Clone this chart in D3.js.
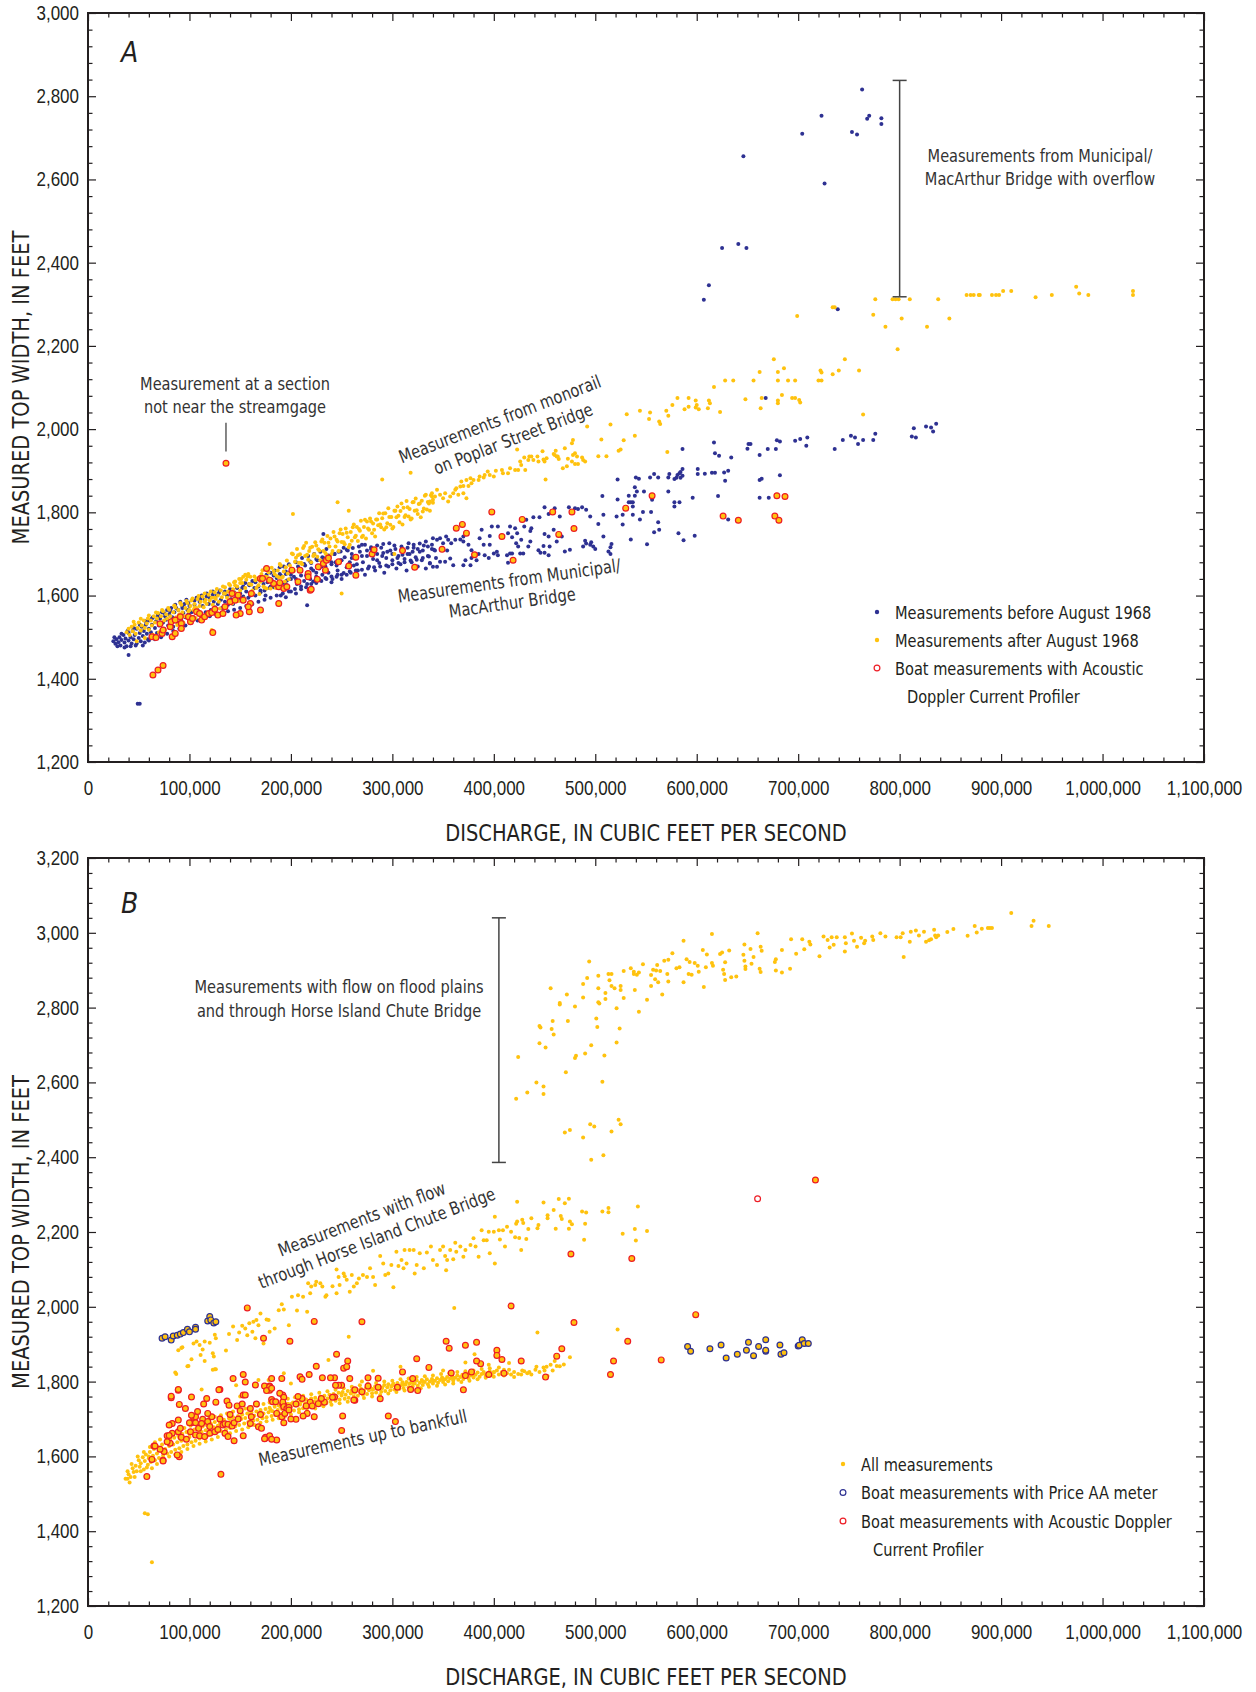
<!DOCTYPE html>
<html><head><meta charset="utf-8">
<script src="https://cdn.jsdelivr.net/npm/d3@7"></script>
<style>
body{margin:0;background:#fff;}
svg{display:block;font-family:"Liberation Sans Narrow","Arial Narrow","DejaVu Sans Condensed",sans-serif;}
</style></head><body>
<script>
// Discharge is stored in thousands of cubic feet per second, top width in feet.

const xTicks = [0,100,200,300,400,500,600,700,800,900,1000,1100];
const yTicksA = [1200,1400,1600,1800,2000,2200,2400,2600,2800,3000];
const yTicksB = [1200,1400,1600,1800,2000,2200,2400,2600,2800,3000,3200];

// ---------- Panel A: Municipal/MacArthur and Poplar Street bridges ----------
const beforeAug1968Band = [
[25,1490],[27,1484],[28,1495],[30,1488],[31,1500],[32,1480],[33,1493],[35,1505],[36,1487],[37,1497],[38,1478],[40,1510],[40,1492],[40,1457],[42,1500],[43,1485],[44,1515],[45,1495],[46,1505],[47,1480],[48,1520],[49,1340],[51,1340],[50,1498],[51,1510],[52,1490],[53,1525],[54,1503],[55,1515],[56,1487],[57,1530],[58,1508],[59,1495],[60,1540],[60,1520],
[62,1512],[63,1530],[64,1548],[65,1500],[66,1522],[67,1538],[68,1510],[69,1555],[70,1528],[71,1545],[72,1515],[73,1560],[74,1535],[75,1520],[76,1550],[77,1542],[78,1565],[79,1528],[80,1555],[81,1538],[82,1570],[83,1548],[84,1525],[85,1560],[86,1578],[87,1545],[88,1535],[89,1565],[90,1552],[91,1585],[92,1540],[93,1570],[94,1558],[95,1580],[96,1548],[97,1590],[98,1565],[99,1555],[100,1575],
[102,1560],[103,1590],[104,1548],[105,1578],[107,1595],[108,1565],[110,1585],[111,1555],[112,1600],[113,1575],[115,1590],[116,1560],[117,1605],[119,1580],[120,1595],[121,1565],[123,1610],[124,1585],[125,1572],[127,1600],[128,1580],[130,1612],[131,1590],[132,1570],[134,1605],[135,1585],[137,1600],[138,1578],[140,1615],[141,1592],[143,1580],[144,1608],[146,1596],[147,1620],[149,1588],[150,1605],
[152,1618],[153,1598],[155,1630],[156,1610],[158,1595],[159,1625],[161,1608],[162,1635],[164,1618],[165,1600],[167,1640],[168,1622],[170,1608],[171,1645],[173,1628],[174,1612],[176,1650],[177,1632],[179,1618],[180,1655],[181,1638],[183,1620],[184,1660],[186,1642],[187,1625],[189,1668],[190,1648],[192,1630],[193,1670],[195,1652],[196,1636],[198,1675],[199,1656],[200,1640],
[160,1582],[175,1600],[190,1600],[195,1596],[200,1610],[205,1605],[210,1615],[215,1620],[216,1577],[220,1628],[225,1630],[230,1635],[235,1640],[240,1632],[245,1645],[250,1640],[255,1650],
[202,1660],[203,1645],[205,1680],[206,1628],[208,1665],[210,1648],[211,1690],[213,1635],[214,1672],[216,1655],[217,1695],[219,1640],[220,1678],[222,1660],[223,1700],[225,1645],[226,1685],[228,1665],[229,1705],[231,1650],[232,1690],[234,1670],[235,1712],[237,1655],[238,1695],[240,1675],[241,1640],[243,1700],[244,1680],[246,1660],[247,1705],[249,1685],[250,1650],[252,1715],[253,1692],[255,1668],[256,1708],[258,1680],[259,1655],[260,1700],[232,1748],
[262,1672],[264,1690],[266,1660],[268,1705],[270,1722],[271,1680],[273,1650],[275,1695],[277,1670],[279,1712],[281,1688],[283,1660],[285,1700],[287,1678],[289,1715],[291,1702],[292,1655],[294,1690],[296,1670],[298,1708],[300,1685],[302,1720],[304,1665],[306,1695],[308,1675],[310,1712],[312,1688],[314,1660],[316,1726],[317,1700],[319,1680],[321,1715],[323,1692],[325,1670],[327,1705],[329,1685],[331,1720],[333,1665],[335,1695],[337,1678],[340,1738],[341,1710],[343,1690]
];
const beforeAug1968Spread = [
[26,1500],[29,1478],[33,1508],[36,1475],[39,1515],[42,1478],[45,1522],[48,1485],[51,1530],[54,1480],[57,1538],[60,1492],[63,1545],[66,1495],[69,1550],[72,1500],[75,1558],[78,1508],[81,1562],[84,1515],[87,1570],[90,1520],[93,1575],[96,1528],[99,1582],[102,1535],[105,1588],[108,1540],[111,1592],[114,1545],[117,1598],[120,1550],[123,1602],[126,1555],[129,1606],[132,1558],[135,1610],[138,1562],[141,1614],[144,1566],[147,1618],[150,1570],[153,1622],[156,1575],[159,1628],[162,1580],[165,1632],[168,1585],[171,1636],[174,1590],[177,1642],[180,1595],[183,1648],[186,1600],[189,1652],[192,1605],[195,1658],[198,1610],[201,1664],[204,1616],[207,1670],[210,1622],[213,1676],[216,1628],[219,1682],[222,1634],[225,1688],[228,1638],[231,1692],[234,1642],[237,1696],[240,1646],[243,1700],[246,1650],[249,1706],[252,1654],[255,1710],[258,1658],[261,1714],[264,1660],[267,1718],[270,1662],[273,1722],[276,1665],[279,1716],[282,1668],[285,1720],[288,1670],[291,1724],[294,1672],[297,1726],[300,1675],[303,1712],[306,1678],[309,1718],[312,1680],[315,1715],[318,1684],[321,1722],[324,1686],[327,1725],[330,1690],[333,1730],[336,1694],[339,1712],
[150,1595],[160,1600],[170,1612],[180,1622],[190,1632],[200,1650],[210,1660],[220,1665],[230,1670],[240,1680],[250,1685],[260,1690],[270,1695],[280,1700],[290,1695],[300,1700],[310,1698],[320,1705],[330,1708],[265,1675],[275,1708],[285,1685],[295,1705],[305,1690],[315,1700],[325,1712],[335,1718],[245,1672],[235,1660],[225,1655],[215,1648],[205,1640],[195,1628]
];
const beforeAug1968Upper = [
[522,1879],[507,1839],[522,1831],[521,1790],[516,1724],[515,1716],[513,1706],[515,1700],[503,1772],[508,1794],[495,1790],[491,1806],[487,1812],[490,1732],[491,1725],[496,1728],[498,1718],[500,1712],[495,1722],[488,1718],[480,1810],[483,1808],[474,1812],[465,1790],[460,1810],[454,1796],[450,1812],[445,1788],[439,1788],[432,1782],[430,1766],[437,1762],[436,1755],[416,1766],[421,1762],[414,1750],[409,1742],[418,1740],[404,1766],[398,1766],[396,1743],[388,1758],[386,1738],[390,1722],[450,1748],[454,1742],[459,1758],[455,1718],[449,1719],[462,1730],[467,1742],[470,1706],[475,1710],[444,1709],[446,1703],[450,1703],[454,1697],[436,1730],[434,1718],[423,1750],[422,1726],[427,1734],[424,1718],[426,1701],[429,1701],[418,1701],[413,1697],[414,1679],[416,1701],[404,1697],[403,1705],[400,1701],[396,1722],[391,1697],[395,1690],[385,1700],[383,1685],[378,1690],[377,1673],[370,1673],[372,1685],[370,1730],[370,1742],[367,1735],[375,1722],[378,1709],[362,1734],[358,1726],[355,1734],[353,1742],[350,1726],[347,1738],[344,1734],[339,1722],[342,1708],[354,1708],[357,1689],[352,1681],[360,1673],[347,1681],[344,1669],[340,1669],[337,1677],[508,1742],
[814,2002],[816,1980],[812,1982],[826,2006],[831,2004],[833,1994],[836,2013],[776,1989],[774,1974],[764,1974],[759,1964],[756,1980],[752,1984],[744,1974],[736,1952],[709,1980],[708,1960],[702,1976],[697,1972],[682,1970],[679,1973],[678,1952],[670,1952],[662,1938],[651,1964],[653,1964],[650,1953],[634,1932],[622,1936],[618,1942],[617,1968],[631,1900],[627,1896],[628,1876],[615,1895],[618,1895],[608,1893],[601,1904],[601,1892],[586,1952],[586,1904],[584,1897],[581,1890],[584,1883],[580,1883],[586,1888],[583,1894],[572,1884],[573,1892],[578,1880],[558,1892],[554,1884],[562,1884],[540,1884],[543,1881],[539,1860],[541,1850],[533,1840],[539,1840],[548,1850],[535,1824],[533,1824],[537,1824],[537,1814],[527,1794],[527,1771],[547,1801],[555,1801],[544,1783],[537,1794],[556,1830],[572,1850],[578,1824],[578,1814],[583,1824],[596,1835],[621,1839],[662,1835],[671,1835],[662,1878],[664,1881],[682,1889],[562,1776],[563,1758],[558,1752],[582,1750],[587,1733],[598,1744],[551,1723],[535,1735],[631,1783]
];
const beforeAug1968Overflow = [
[763,2816],[723,2753],[704,2710],[646,2656],[753,2714],[758,2708],[768,2746],[770,2753],[782,2747],[782,2733],[726,2590],[625,2435],[641,2445],[649,2435],[612,2346],[607,2311],[739,2288],[668,2075]
];
const afterAug1968Low = [
[38,1512],[40,1520],[41,1505],[43,1525],[44,1514],[46,1530],[47,1508],[49,1522],[50,1535],[52,1516],[53,1528],[55,1540],[56,1522],[58,1533],[59,1545],[60,1518],
[62,1540],[63,1528],[65,1550],[66,1535],[68,1545],[69,1558],[71,1532],[72,1550],[74,1562],[75,1540],[77,1555],[78,1545],[80,1566],[81,1550],[83,1538],[84,1560],[86,1572],[87,1548],[89,1565],[90,1555],[92,1578],[93,1560],[95,1550],[96,1570],[98,1582],[99,1562],[101,1575],[102,1588],[104,1565],[105,1580],[107,1570],[108,1592],[110,1575],
[111,1585],[113,1598],[114,1572],[116,1590],[117,1580],[119,1602],[120,1588],[122,1595],[123,1578],[125,1608],[126,1592],[128,1600],[129,1585],[131,1612],[132,1596],[134,1605],[135,1620],[137,1595],[138,1610],[140,1625],[141,1600],[143,1615],[144,1632],[146,1605],[147,1622],[149,1640],[150,1612],[152,1630],[153,1645],[155,1618],[156,1638],[158,1652],[159,1628],[160,1645],
[45,1537],[48,1490],[52,1544],[56,1498],[60,1552],[64,1506],[67,1559],[70,1512],[73,1565],[76,1517],[79,1570],[82,1523],[85,1576],[88,1529],[91,1582],[94,1535],[97,1587],[100,1540],[103,1593],[106,1546],[109,1599],[112,1552],[115,1605],[118,1558],[121,1610],[124,1563],[127,1616],[130,1569],[133,1622],[136,1575],[139,1628],[142,1581],[145,1634],[148,1587],[151,1640],[154,1593],[157,1646],
[100,1565],[105,1570],[115,1585],[125,1595],[135,1605],[145,1625],[150,1630],[155,1650],
[202,1796],[246,1824],[290,1879],[318,1895],[179,1724],[257,1804],[250,1605],[122,1517],[302,1700]
];
const afterAug1968Mid = [
[161,1626],[163,1605],[164,1646],[166,1618],[167,1641],[169,1604],[170,1633],[172,1661],[173,1622],[175,1645],[176,1617],[178,1656],[179,1637],[181,1667],[182,1628],[184,1652],[185,1618],[187,1660],[188,1644],[190,1672],[191,1643],[193,1658],[194,1634],[196,1684],[197,1653],[199,1672],
[200,1665],[202,1699],[203,1659],[205,1691],[206,1712],[208,1679],[209,1699],[211,1675],[212,1714],[214,1695],[215,1727],[217,1686],[218,1707],[220,1680],[221,1717],[223,1699],[224,1728],[226,1693],[227,1711],[229,1685],[230,1730],[232,1707],[233,1727],[235,1698],[236,1743],[238,1718],[239,1737],[241,1707],[242,1753],[244,1718],[245,1734],[247,1707],[248,1750],[250,1729],[251,1748],[253,1723],[254,1761],[256,1740],[257,1716],[259,1753],[260,1732],[262,1771],[263,1740],[265,1765],[266,1731],[268,1756],[269,1780],[271,1744],[272,1765],[274,1737],[275,1778],[277,1758],[278,1785],[280,1750],[281,1773],[283,1742],[284,1783],[286,1769],[287,1798],[289,1764],[290,1786],[292,1759],[293,1798],[295,1774],[296,1810],[298,1770],[299,1789],[301,1765],[302,1804],[304,1788],[305,1814],[307,1776],[308,1803],[310,1771],[311,1811],[313,1793],[314,1827],[316,1790],[317,1808],[319,1785],[320,1824],[322,1804],[323,1833],[325,1796],[326,1820],[328,1788],[329,1828],[331,1809],[332,1840],[334,1807],[335,1825],[337,1804],[338,1841],[340,1823],
[162,1612],[165,1637],[168,1625],[171,1652],[174,1619],[177,1644],[180,1617],[183,1659],[186,1647],[189,1676],[192,1645],[195,1668],[198,1639],
[201,1701],[204,1681],[207,1697],[210,1679],[213,1719],[216,1698],[219,1715],[222,1695],[225,1720],[228,1708],[231,1735],[234,1702],[237,1727],[240,1700],[243,1742],[246,1730],[249,1759],[252,1728],[255,1751],[258,1722],[261,1764],[264,1744],[267,1760],[270,1741],[273,1782],[276,1761],[279,1778],[282,1758],[285,1783],[288,1771],[291,1797],[294,1764],[297,1789],[300,1761],[303,1804],[306,1792],[309,1821],[312,1789],[315,1812],[318,1783],[321,1825],[324,1805],[327,1821],[330,1802],[333,1842],[336,1821],[339,1838]
];
const afterAug1968Upper = [
[515,2011],[492,2006],[506,1975],[523,1948],[503,1935],[511,1935],[478,1974],[477,1966],[470,1954],[461,1948],[460,1938],[463,1934],[448,1947],[435,1934],[439,1926],[449,1927],[450,1922],[452,1930],[473,1929],[477,1922],[478,1938],[480,1942],[482,1934],[487,1932],[488,1926],[490,1922],[472,1911],[468,1906],[480,1916],[483,1916],[464,1928],[462,1934],[459,1940],[423,1951],[430,1932],[426,1922],[427,1914],[416,1906],[421,1902],[424,1902],[431,1902],[408,1902],[409,1894],[414,1894],[402,1900],[400,1886],[394,1898],[396,1890],[391,1890],[386,1886],[390,1884],[385,1878],[377,1882],[380,1878],[373,1878],[378,1870],[375,1863],[368,1874],[370,1863],[367,1862],[363,1858],[360,1846],[362,1854],[357,1838],[352,1846],[347,1842],[344,1854],[342,1838],[340,1830],[337,1826],[339,1846],[350,1834],[355,1826],[365,1842],[370,1846],[373,1834],[451,1879],[444,1922],[443,1934],[437,1934],[434,1926],
[531,2036],[544,2044],[554,2040],[564,2012],[570,2044],[572,2032],[576,2058],[588,2048],[592,2054],[599,2052],[600,2058],[602,2048],[611,2050],[613,2062],[623,2041],[663,2050],[680,2062],[702,2064],[764,2035],[571,1945],[539,1984],[528,1973],[525,1951],[553,2024],[563,2018],
[776,2312],[793,2312],[796,2312],[799,2312],[810,2312],[838,2312],[866,2322],[870,2322],[873,2322],[878,2322],[879,2322],[891,2322],[895,2322],[898,2322],[902,2332],[910,2332],[934,2317],[950,2322],[974,2342],[977,2326],[986,2322],[1030,2332],[1030,2322],[699,2272],[734,2293],[736,2293],[774,2275],[786,2246],[802,2266],[827,2246],[849,2266],[798,2192],[676,2168],[746,2168],[686,2146],[662,2137],[680,2137],[722,2141],[723,2136],[734,2132],[740,2141],[760,2141],[617,2101],[628,2117],[636,2117],[656,2117],[680,2117],[690,2117],[697,2117],[720,2117],[723,2117],[581,2075],[592,2075],[599,2069],[612,2069],[648,2072],[664,2075],[680,2069],[684,2082],[694,2075],[697,2075],[701,2070]
];
const adcpA = [
[136,1918],[64,1409],[69,1421],[74,1432],[63,1501],[67,1499],[73,1509],[74,1517],[71,1532],[81,1525],[82,1537],[86,1541],[91,1549],[92,1533],[92,1521],[83,1501],[86,1509],[99,1549],[101,1537],[103,1545],[107,1561],[110,1557],[112,1541],[115,1549],[119,1557],[122,1559],[125,1567],[128,1553],[133,1557],[135,1573],[140,1585],[142,1605],[145,1589],[148,1601],[150,1557],[146,1553],[153,1589],[160,1581],[161,1605],[123,1511],[159,1561],[170,1641],[172,1641],[176,1665],[183,1629],[188,1621],[189,1631],[193,1617],[196,1621],[201,1661],[188,1581],[207,1633],[209,1661],[217,1653],[219,1613],[217,1645],[227,1669],[232,1677],[235,1685],[234,1661],[237,1690],[247,1681],[257,1671],[264,1649],[264,1692],[280,1700],[282,1710],[310,1708],[322,1668],[226,1639],[220,1615],[179,1637],[158,1573],[170,1565],
[398,1801],[363,1762],[369,1771],[373,1750],[349,1711],[381,1698],[408,1742],[428,1783],[419,1685],[458,1801],[477,1801],[479,1761],[464,1747],[530,1810],[556,1840],[626,1791],[641,1781],[679,1840],[687,1838],[677,1791],[681,1781]
];

// ---------- Panel B: Chester streamgage ----------
const bankfullB = [
[37,1540],[40,1552],[42,1545],[44,1568],[45,1558],[47,1575],[48,1560],[50,1590],[51,1572],[52,1582],[54,1598],[55,1565],[56,1588],[57,1605],[59,1578],[60,1595],[61,1612],[62,1585],[64,1602],[65,1620],[66,1590],[68,1608],[69,1625],[70,1596],[72,1615],[73,1632],[74,1602],[76,1620],[77,1638],[78,1608],[80,1628],[81,1645],[82,1612],[84,1632],[85,1650],[86,1618],[88,1638],[89,1655],[90,1622],[92,1642],[93,1660],[94,1628],[96,1648],[97,1665],[98,1632],[100,1652],[101,1668],[102,1638],[104,1658],[105,1672],[106,1642],[108,1662],[109,1676],[110,1648],[112,1665],[113,1680],[114,1652],[116,1670],[117,1684],[118,1656],[120,1674],[121,1688],[122,1660],[124,1678],[125,1692],[127,1664],[128,1682],[130,1695],[131,1668],[133,1686],[134,1698],[136,1672],[137,1690],[139,1702],[140,1676],[142,1693],[143,1705],[145,1680],[146,1696],[148,1708],[149,1684],[151,1700],[152,1712],[154,1688],[155,1703],[157,1715],[158,1692],[160,1706],[161,1718],[163,1695],[164,1709],[166,1720],[167,1698],[169,1712],[170,1724],[172,1702],[173,1715],[175,1727],[176,1705],[178,1718],[179,1730],[181,1708],[182,1721],[184,1733],[185,1711],[187,1724],[188,1736],[190,1714],[191,1727],[193,1738],[194,1717],[196,1730],[197,1741],[199,1720],[200,1733],[202,1744],[203,1723],[205,1736],[206,1747],[208,1726],[209,1739],[211,1750],[212,1729],[214,1742],[215,1752],[217,1732],[218,1745],[220,1755],[221,1735],[223,1747],[224,1757],[226,1738],[227,1750],[229,1760],[230,1740],[232,1752],[233,1762],[235,1743],[236,1755],[238,1765],[239,1746],[241,1758],[242,1767],[244,1749],[245,1760],[247,1770],[248,1752],[250,1763],[251,1772],[253,1754],[254,1765],[256,1775],[257,1757],[259,1768],[260,1777],[262,1760],[263,1770],[265,1779],[266,1762],[268,1772],[269,1781],[271,1765],[272,1775],[274,1783],[275,1767],[277,1777],[278,1785],[280,1769],[281,1779],[283,1787],[284,1771],[286,1781],[287,1789],[289,1773],[290,1783],[292,1791],[293,1775],[295,1785],[296,1793],[298,1777],[299,1787],[301,1794],[302,1779],[304,1789],[305,1796],[307,1781],[308,1790],[310,1798],[311,1783],[313,1792],[314,1799],[316,1785],[317,1794],[319,1801],[320,1787],[322,1795],[324,1803],[325,1789],[327,1797],[329,1804],[330,1791],[332,1799],[334,1806],[335,1793],[337,1800],[339,1807],[340,1795],[342,1802],[344,1809],[345,1797],[347,1804],[349,1811],[350,1799],[352,1806],[354,1812],[355,1801],[357,1808],[359,1814],[360,1803],[362,1810],[364,1816],[365,1805],[367,1812],[369,1818],[370,1807],[372,1814],[374,1820],[375,1809],[377,1816],[379,1822],[380,1811],[382,1818],[384,1824],[386,1813],[388,1820],[390,1826],[392,1815],[394,1822],[396,1828],[398,1817],[400,1824],[403,1830],[405,1819],[408,1826],[410,1832],[413,1822],[417,1819],[420,1826],[424,1820],[427,1819],[430,1828],[433,1822],[437,1819],[441,1832],[445,1826],[449,1838],[453,1815],[458,1830],[462,1842],[465,1841],[469,1846]
];
const bankfullSpreadB = [
[39,1560],[41,1530],[43,1580],[46,1545],[49,1600],[52,1560],[55,1612],[58,1570],[61,1625],[63,1568],[66,1638],[68,1580],[71,1645],[74,1590],[77,1655],[80,1600],[83,1662],[86,1605],[89,1670],[92,1612],[95,1676],[98,1620],[101,1682],[104,1628],[107,1688],[110,1634],[113,1694],[116,1640],[119,1700],[122,1645],[125,1706],[128,1652],[131,1710],[134,1658],[137,1715],[140,1662],[143,1720],[146,1668],[149,1724],[152,1672],[155,1728],[158,1678],[161,1732],[164,1684],[167,1736],[170,1690],[173,1740],[176,1694],[179,1744],[182,1698],[185,1748],[188,1702],[191,1750],[194,1706],[197,1754],[200,1712],[204,1758],[208,1718],[212,1762],[216,1722],[220,1766],[224,1728],[228,1770],[232,1734],[236,1774],[240,1738],[244,1778],[248,1742],[252,1782],[256,1746],[260,1786],[264,1752],[268,1790],[272,1756],[276,1794],[280,1760],[284,1796],[288,1764],[292,1800],[296,1768],[300,1802],[304,1772],[308,1806],[312,1776],[316,1808],[320,1779],[324,1812],[328,1782],[332,1814],[336,1786],[340,1816],[344,1789],[348,1820],[352,1792],[356,1822],[360,1795],[364,1826],[368,1799],[372,1828],[376,1802],[380,1830],[384,1806],[388,1834],[392,1810],[396,1836],[400,1813],[405,1838],[410,1816],[415,1832],[420,1812],[428,1830],[435,1826],[442,1840],[450,1830],[456,1845],
[60,1600],[70,1620],[80,1640],[90,1650],[100,1660],[110,1670],[120,1682],[130,1690],[140,1700],[150,1705],[160,1712],[170,1720],[180,1725],[190,1732],[200,1740],[210,1746],[220,1750],[230,1756],[240,1762],[250,1768],[260,1770],[270,1776],[280,1780],[290,1784],[300,1790],[310,1792],[320,1796],[330,1800],[340,1802],[350,1806],[360,1810],[370,1814],[380,1818],[390,1822],[400,1826]
];
const betweenB = [
[87,1820],[112,1779],[125,1833],[168,1804],[178,1804],[193,1822],[237,1858],[257,1920],[308,1840],[372,1851],[381,1873],[281,1829],[361,1997],[443,1931],[522,1939],[146,1790],[150,1760],[200,1795],[270,1800],[320,1810],[350,1830],[395,1845],[415,1850],[452,1840],[460,1855],[475,1865],[92,1890],[98,1841],[115,1855],[86,1824],[123,1832],[39,1540]
];
const chuteB = [
[89,1884],[93,1892],[99,1842],[104,1902],[102,1860],[107,1907],[110,1898],[111,1871],[113,1886],[115,1907],[120,1904],[123,1876],[124,1867],[125,1925],[126,1916],[126,1833],
[136,1883],[139,1927],[143,1947],[147,1911],[149,1931],[152,1949],[155,1942],[157,1924],[159,1956],[162,1933],[163,1960],[165,1916],[166,1965],[168,1951],[170,1982],[173,1902],[176,1966],[178,1965],[179,1933],[184,1942],[188,1991],[191,2007],[193,1993],[198,1951],[201,2027],[206,1990],[207,2031],[212,2027],[216,1987],[217,2063],[219,2036],[220,2054],[224,2058],[225,2067],[229,2063],[231,2054],[234,2027],[235,2031],[241,2055],[245,2036],[245,2100],[247,2080],[248,2058],[252,2089],[253,2082],[255,2072],[258,2040],[260,2085],[262,2054],[265,2063],[267,2076],[271,2085],[275,2080],[278,2103],[281,2080],[283,2058],[288,2136],[291,2116],[293,2085],[296,2089],[299,2112],[301,2052],[304,2147],[306,2109],[309,2125],[311,2103],[312,2152],[314,2116],[317,2152],[321,2152],[322,2089],[324,2112],[327,2143],[331,2103],[334,2145],[338,2161],[340,2125],[344,2112],[347,2152],[350,2161],[352,2136],[353,2098],[354,2125],[357,2152],[360,2127],[362,2171],[363,2147],[367,2161],[370,2134],[372,2152],[377,2165],[380,2183],[382,2161],[385,2134],[388,2205],[390,2178],[393,2178],[395,2201],[396,2143],[400,2201],[401,2241],[401,2116],[405,2205],[406,2180],[409,2205],[411,2161],[413,2214],
[474,2289],[464,2288],[470,2277],[449,2279],[423,2281],[459,2259],[453,2245],[453,2237],[466,2243],[467,2235],[475,2228],[477,2221],[487,2255],[491,2252],[507,2255],[513,2264],[513,2253],[542,2268],[490,2222],[474,2209],[461,2209],[444,2219],[443,2210],[437,2237],[434,2208],[428,2233],[429,2224],[422,2222],[423,2228],[417,2201],[432,2181],[425,2184],[421,2186],[427,2152],[527,2195],[539,2208],[540,2177],[551,2203],[489,2179]
];
const floodB = [
[422,2556],[424,2668],[433,2573],[442,2600],[449,2589],[449,2569],[445,2705],[451,2693],[445,2751],[446,2747],[458,2764],[457,2743],[459,2728],[456,2852],[465,2812],[465,2808],[472,2835],[473,2764],[480,2803],[488,2863],[488,2827],[492,2879],[494,2923],[496,2699],[490,2677],[480,2665],[481,2671],[471,2627],[501,2771],[502,2748],[503,2885],[503,2852],[503,2814],[504,2811],[509,2672],[507,2602],[510,2839],[510,2823],[513,2890],[516,2890],[514,2873],[516,2858],[519,2852],[525,2858],[525,2847],[521,2798],[521,2707],[524,2744],[528,2898],[528,2826],[535,2905],[538,2896],[541,2888],[543,2894],[538,2890],[539,2847],[543,2789],[547,2916],[551,2821],[555,2858],[555,2887],[557,2901],[560,2899],[564,2898],[559,2876],[562,2868],[561,2914],[566,2835],[568,2925],[572,2928],[576,2945],[571,2890],[572,2870],[580,2905],[583,2908],[587,2979],[587,2868],[590,2929],[593,2922],[592,2890],[595,2888],[598,2919],[601,2912],[602,2896],[606,2954],[607,2855],[609,2908],[610,2942],[615,2997],[615,2919],[616,2912],[623,2943],[625,2947],[626,2901],[627,2890],[628,2921],[628,2874],[632,2953],[634,2881],[639,2883],[646,2941],[647,2969],[647,2925],[648,2910],[648,2903],[653,2957],[654,2917],[656,2935],[660,2999],[662,2904],[663,2895],[663,2963],[664,2952],[677,2922],[678,2929],[678,2899],[684,2954],[684,2894],[692,2904],[693,2983],[698,2944],[704,2983],[706,2956],[711,2976],[712,2969],[721,2937],[725,2990],[729,2981],[731,2961],[733,2988],[735,2968],[738,2988],[746,2988],[747,2972],[746,2950],[753,2998],[755,2979],[758,2963],[762,2987],[765,2972],[766,2979],[773,2990],[774,2981],[781,2999],[786,2990],[797,2988],[801,2988],[803,2999],[810,2976],[811,3003],[804,2935],[816,3006],[819,2993],[824,3003],[826,2976],[829,2980],[831,2983],[834,3008],[835,2993],[836,2988],[838,2993],[847,3002],[853,3010],[867,2992],[874,3018],[876,3001],[881,3011],[887,3013],[889,3013],[891,3013],[910,3053],[932,3032],[930,3018],[947,3018],
[470,2466],[475,2473],[488,2453],[495,2488],[499,2482],[496,2393],[508,2405],[516,2469],[523,2500],[525,2488]
];
const lowOutliersB = [[56,1448],[59,1445],[63,1317]];
const priceAAB = [
[73,1916],[76,1920],[82,1911],[84,1922],[88,1924],[91,1927],[94,1931],[98,1940],[100,1933],[106,1945],[106,1940],[118,1962],[120,1974],[121,1965],[124,1957],[126,1960],
[591,1894],[594,1881],[613,1888],[624,1898],[629,1863],[640,1873],[649,1884],[651,1905],[656,1869],[661,1894],[668,1912],[668,1881],[668,1884],[682,1898],[683,1873],[686,1877],[700,1895],[701,1897],[704,1912],[706,1902],[710,1902]
];
const adcpB = [
[476,2141],[536,2129],[717,2339],[599,1979],[532,1908],[565,1858],[518,1855],[515,1819],[417,2002],[479,1958],[467,1888],[462,1868],[451,1812],[427,1855],[408,1859],[410,1822],[403,1884],[403,1870],[395,1819],[387,1848],[383,1855],[383,1905],[372,1897],[372,1816],[370,1778],[358,1823],[356,1889],[353,1908],[336,1838],[324,1861],[320,1808],[325,1776],[318,1779],[310,1826],[305,1785],[303,1693],[296,1708],[288,1754],[286,1809],[286,1785],[276,1810],[276,1788],[270,1960],[270,1773],[263,1750],[263,1778],[258,1808],[256,1855],[252,1836],[255,1840],[245,1873],[250,1790],[247,1790],[244,1790],[251,1708],[250,1669],[243,1759],[243,1810],[239,1810],[231,1810],[225,1841],[223,1961],[233,1745],[227,1741],[223,1706],[209,1813],[211,1806],[218,1819],[219,1745],[199,1908],[211,1755],[207,1760],[193,1690],[191,1808],[192,1764],[192,1740],[193,1737],[181,1808],[179,1788],[179,1777],[181,1752],[175,1649],[173,1916],[165,1791],[157,1997],[153,1819],[155,1799],[143,1808],[130,1779],[131,1552],[378,1826],
[89,1777],[82,1757],[102,1759],[117,1755],[129,1778],[126,1745],[137,1748],[139,1737],[147,1735],[152,1740],[153,1764],[155,1764],[174,1788],[179,1786],[176,1776],[181,1782],[189,1769],[193,1758],[192,1745],[182,1746],[185,1746],[221,1735],[216,1715],[230,1755],[241,1758],[262,1751],
[83,1688],[89,1697],[89,1666],[80,1684],[91,1675],[92,1651],[101,1666],[97,1646],[106,1657],[109,1675],[110,1655],[115,1653],[120,1662],[125,1666],[128,1672],[133,1684],[135,1687],[138,1686],[142,1681],[144,1690],[135,1662],[138,1653],[144,1642],[153,1655],[160,1688],[161,1706],[168,1679],[171,1675],[175,1651],[179,1655],[186,1715],[191,1706],[193,1733],[196,1728],[198,1731],[194,1715],[198,1724],[186,1644],[181,1646],[174,1647],[212,1708],[205,1699],[78,1655],[81,1635],[75,1613],[71,1619],[65,1628],[63,1592],[74,1590],[90,1599],[88,1604],[78,1639],[83,1662],[104,1704],[106,1706],[102,1690],[106,1690],[113,1699],[112,1688],[118,1693],[122,1706],[120,1680],[58,1546],[66,1628],[74,1588],[80,1656],[82,1761],[89,1779],[90,1739],[102,1710],
[96,1728],[108,1720],[114,1740],[100,1690],[130,1700],[118,1715],[140,1712],[148,1700],[150,1722],[160,1728],[166,1740],[170,1712],[200,1700],[205,1740],[215,1735]
];
// ADCP measurement with no matching entry in the full record (open ring)
const adcpBUnmatched = [[660,2289]];

// ---------- drawing ----------
const W = 1256, H = 1692;
const INK = "#231f20", NAVY = "#2e3192", GOLD = "#ffc20e", RED = "#ed1c24";
const fmt = d3.format(",");
const NARROW = 0.9;          // horizontal squeeze for annotation/legend text

const svg = d3.select("body").append("svg").attr("width", W).attr("height", H);

const x = d3.scaleLinear().domain([0, 1100]).range([88, 1204]);

function frame(y, yTicks, top, bottom) {
  const g = svg.append("g");
  const xMinor = d3.range(0, 1101, 20).filter(v => v % 100 !== 0);
  const yMinor = d3.range(yTicks[0], yTicks[yTicks.length - 1] + 1, 40).filter(v => (v - yTicks[0]) % 200 !== 0);
  g.append("g").attr("transform", `translate(0,${bottom})`)
    .call(d3.axisBottom(x).tickValues(xTicks).tickSize(-8).tickPadding(19).tickFormat(v => fmt(v * 1000)));
  g.append("g").attr("transform", `translate(0,${bottom})`)
    .call(d3.axisBottom(x).tickValues(xMinor).tickSize(-4.5).tickFormat(""));
  g.append("g").attr("transform", `translate(0,${top})`)
    .call(d3.axisTop(x).tickValues(xTicks).tickSize(-8).tickFormat(""));
  g.append("g").attr("transform", `translate(0,${top})`)
    .call(d3.axisTop(x).tickValues(xMinor).tickSize(-4.5).tickFormat(""));
  const yl = g.append("g").attr("transform", `translate(88,0)`)
    .call(d3.axisLeft(y).tickValues(yTicks).tickSize(-8).tickPadding(9).tickFormat(fmt));
  g.append("g").attr("transform", `translate(88,0)`)
    .call(d3.axisLeft(y).tickValues(yMinor).tickSize(-4.5).tickFormat(""));
  g.append("g").attr("transform", `translate(1204,0)`)
    .call(d3.axisRight(y).tickValues(yTicks).tickSize(-8).tickFormat(""));
  g.append("g").attr("transform", `translate(1204,0)`)
    .call(d3.axisRight(y).tickValues(yMinor).tickSize(-4.5).tickFormat(""));
  g.selectAll(".domain").remove();
  g.selectAll(".tick line").attr("stroke", INK).attr("stroke-width", 1.2);
  g.selectAll(".tick text").attr("fill", INK).attr("font-size", 20).attr("font-family", null)
    .attr("transform", "scale(0.85,1)");
  yl.selectAll(".tick text").attr("x", -9 / 0.85);
  g.append("rect").attr("x", 88).attr("y", top).attr("width", 1116).attr("height", bottom - top)
    .attr("fill", "none").attr("stroke", INK).attr("stroke-width", 2);
  g.append("text").attr("transform", `translate(646,${bottom + 79}) scale(0.94,1)`).attr("text-anchor", "middle")
    .attr("font-size", 23).attr("fill", INK).text("DISCHARGE, IN CUBIC FEET PER SECOND");
  g.append("text").attr("transform", `translate(29,${(top + bottom) / 2}) rotate(-90) scale(0.94,1)`)
    .attr("text-anchor", "middle").attr("font-size", 23).attr("fill", INK).text("MEASURED TOP WIDTH, IN FEET");
}

function dots(y, data, color, r) {
  svg.append("g").selectAll("circle").data(data).join("circle")
    .attr("cx", d => x(d[0])).attr("cy", d => y(d[1])).attr("r", r).attr("fill", color);
}
function rings(y, data, color, fill) {
  svg.append("g").selectAll("circle").data(data).join("circle")
    .attr("cx", d => x(d[0])).attr("cy", d => y(d[1])).attr("r", 2.9)
    .attr("fill", fill).attr("stroke", color).attr("stroke-width", 1.2);
}
function errorBar(y, xv, y0, y1) {
  const g = svg.append("g").attr("stroke", "#444").attr("stroke-width", 1.5);
  g.append("line").attr("x1", x(xv)).attr("x2", x(xv)).attr("y1", y(y0)).attr("y2", y(y1));
  [y0, y1].forEach(v => g.append("line").attr("x1", x(xv) - 7).attr("x2", x(xv) + 7).attr("y1", y(v)).attr("y2", y(v)));
}
function label(lines, cx, cy, opts = {}) {
  const size = opts.size || 18, lh = opts.lh || 22, rot = opts.rot || 0;
  const t = svg.append("text").attr("transform", `translate(${cx},${cy}) rotate(${rot}) scale(${NARROW},1)`)
    .attr("text-anchor", opts.anchor || "middle").attr("font-size", size).attr("fill", "#333");
  lines.forEach((s, i) => t.append("tspan").attr("x", opts.dx ? opts.dx[i] || 0 : 0).attr("y", i * lh).text(s));
  return t;
}
function legend(items, x0, y0, step) {
  items.forEach((it, i) => {
    const cy = y0 + i * step;
    if (it.kind === "dot") svg.append("circle").attr("cx", x0).attr("cy", cy).attr("r", 2.2).attr("fill", it.color);
    else if (it.kind === "ring") svg.append("circle").attr("cx", x0).attr("cy", cy).attr("r", 2.9)
      .attr("fill", "#fff").attr("stroke", it.color).attr("stroke-width", 1.2);
    if (it.text) svg.append("text").attr("transform", `translate(${x0 + 18 + (it.indent || 0)},${cy + 6.5}) scale(${NARROW},1)`)
      .attr("font-size", 18).attr("fill", INK).text(it.text);
  });
}

// Panel A
const yA = d3.scaleLinear().domain([1200, 3000]).range([762, 13]);
frame(yA, yTicksA, 13, 762);
[beforeAug1968Band, beforeAug1968Spread, beforeAug1968Upper, beforeAug1968Overflow].forEach(s => dots(yA, s, NAVY, 2));
[afterAug1968Low, afterAug1968Mid, afterAug1968Upper].forEach(s => dots(yA, s, GOLD, 2));
rings(yA, adcpA, RED, GOLD);
errorBar(yA, 800, 2838, 2318);
svg.append("line").attr("x1", x(136)).attr("x2", x(136)).attr("y1", yA(2015)).attr("y2", yA(1946))
  .attr("stroke", "#444").attr("stroke-width", 1.3);
svg.append("text").attr("x", 121).attr("y", 62).attr("font-size", 28).attr("font-style", "italic")
  .attr("fill", INK).text("A");
label(["Measurements from Municipal/", "MacArthur Bridge with overflow"], 1040, 162, {lh: 23});
label(["Measurement at a section", "not near the streamgage"], 235, 390, {lh: 23});
label(["Measurements from monorail", "on Poplar Street Bridge"], 502, 425, {rot: -21, lh: 23, dx: [0, 6]});
label(["Measurements from Municipal/", "MacArthur Bridge"], 510, 587, {rot: -8, lh: 22});
legend([
  {kind: "dot", color: NAVY, text: "Measurements before August 1968"},
  {kind: "dot", color: GOLD, text: "Measurements after August 1968"},
  {kind: "ring", color: RED, text: "Boat measurements with Acoustic"},
  {kind: "none", text: "Doppler Current Profiler", indent: 12}
], 877, 612, 28);

// Panel B
const yB = d3.scaleLinear().domain([1200, 3200]).range([1606, 858]);
frame(yB, yTicksB, 858, 1606);
[bankfullB, bankfullSpreadB, betweenB, chuteB, floodB, lowOutliersB].forEach(s => dots(yB, s, GOLD, 2));
rings(yB, priceAAB, NAVY, GOLD);
rings(yB, adcpB, RED, GOLD);
rings(yB, adcpBUnmatched, RED, "#fff");
errorBar(yB, 405, 3040, 2386);
svg.append("text").attr("x", 121).attr("y", 913).attr("font-size", 28).attr("font-style", "italic")
  .attr("fill", INK).text("B");
label(["Measurements with flow on flood plains", "and through Horse Island Chute Bridge"], 339, 993, {lh: 24});
label(["Measurements with flow", "through Horse Island Chute Bridge"], 364, 1225, {rot: -21, lh: 23, dx: [0, 8]});
label(["Measurements up to bankfull"], 364, 1444, {rot: -12});
legend([
  {kind: "dot", color: GOLD, text: "All measurements"},
  {kind: "ring", color: NAVY, text: "Boat measurements with Price AA meter"},
  {kind: "ring", color: RED, text: "Boat measurements with Acoustic Doppler"},
  {kind: "none", text: "Current Profiler", indent: 12}
], 843, 1464, 28.5);
</script>
</body></html>
